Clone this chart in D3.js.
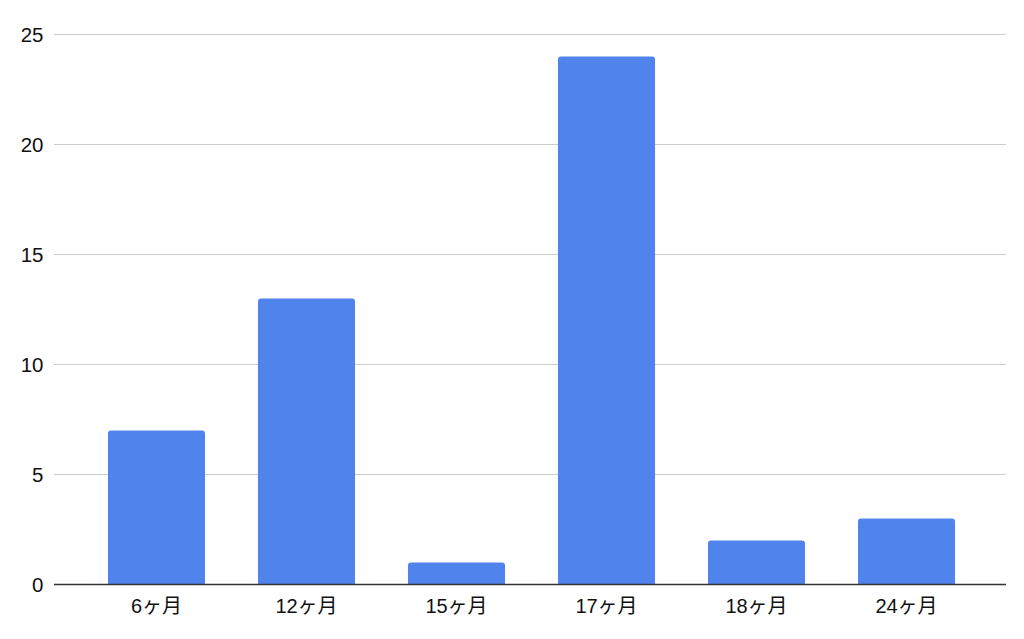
<!DOCTYPE html>
<html><head><meta charset="utf-8">
<script src="https://cdn.jsdelivr.net/npm/d3@7"></script>
<style>body{margin:0;background:#fff;} svg{display:block;}</style>
</head><body>
<svg id="chart" width="1024" height="639"></svg>
<script>
const categories = ["6ヶ月","12ヶ月","15ヶ月","17ヶ月","18ヶ月","24ヶ月"];
const values = [7,13,1,24,2,3];
const yTicks = [0,5,10,15,20,25];

const svg = d3.select("#chart");
const font = "Arial, 'Liberation Sans', 'Noto Sans CJK JP', sans-serif";
const plotLeft = 54, plotRight = 1006;
const x = d3.scaleBand().domain(categories).range([81.5, 981.5]).paddingInner(0.353).paddingOuter(0.1765);
const y = d3.scaleLinear().domain([0,25]).range([584.5,34.5]);

// gridlines
svg.append("g").selectAll("line").data(yTicks.filter(d=>d>0)).join("line")
  .attr("x1", plotLeft).attr("x2", plotRight)
  .attr("y1", d=>y(d)).attr("y2", d=>y(d))
  .attr("stroke", "#cccccc").attr("stroke-width", 1.2);

// y labels
svg.append("g").selectAll("text").data(yTicks).join("text")
  .attr("x", 43.5).attr("y", d=>y(d)).attr("dy","0.36em")
  .attr("text-anchor","end").attr("font-family",font).attr("font-size",20.5)
  .attr("fill","#111").text(d=>d);

// bars with rounded top corners
const r = 3;
svg.append("g").selectAll("path").data(values).join("path")
  .attr("d", (d,i)=>{
    const x0 = x(categories[i]), w = x.bandwidth(), y0 = y(d), yb = y(0);
    return `M${x0},${yb}V${y0+r}Q${x0},${y0} ${x0+r},${y0}H${x0+w-r}Q${x0+w},${y0} ${x0+w},${y0+r}V${yb}Z`;
  })
  .attr("fill","#5084ec");

// x axis line
svg.append("line").attr("x1",plotLeft).attr("x2",plotRight)
  .attr("y1",584.5).attr("y2",584.5).attr("stroke","#333").attr("stroke-width",1.3);

// x labels
svg.append("g").selectAll("text").data(categories).join("text")
  .attr("x", d=>x(d)+x.bandwidth()/2).attr("y", 612.5)
  .attr("text-anchor","middle").attr("font-family",font).attr("font-size",20)
  .attr("fill","#111").text(d=>d);
</script>
</body></html>
